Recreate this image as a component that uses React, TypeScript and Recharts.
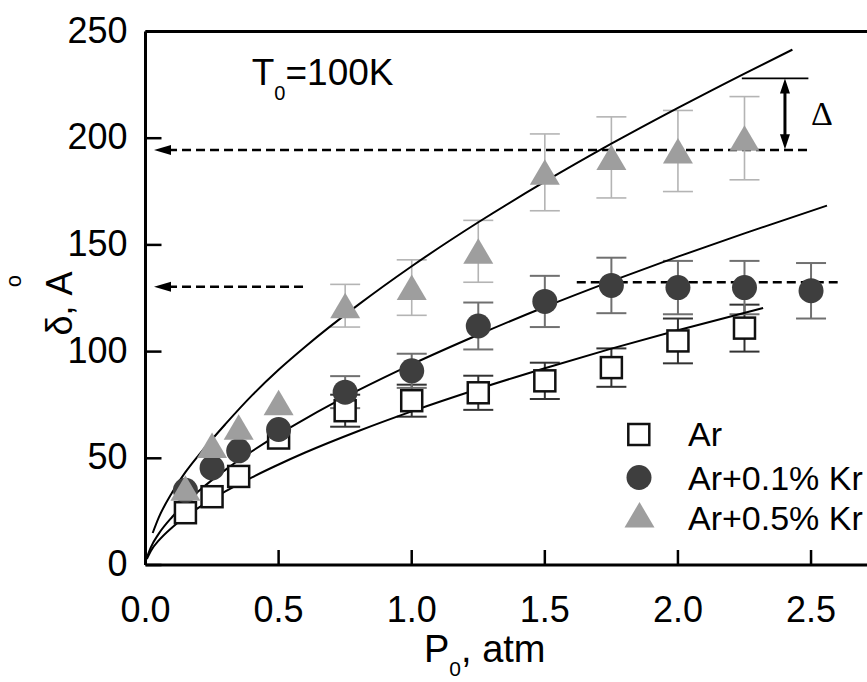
import React from 'react';
import {
  ComposedChart,
  Scatter,
  Line,
  XAxis,
  YAxis,
  ErrorBar,
  ReferenceLine,
  ReferenceDot,
  Legend,
} from 'recharts';

const FONT = "'Liberation Sans', Arial, Helvetica, sans-serif";

// ---- data: measured points ----
const xAr = [0.15, 0.25, 0.35, 0.5, 0.75, 1.0, 1.25, 1.5, 1.75, 2.0, 2.25];
const yAr = [24.5, 32, 41.5, 59.5, 72.3, 77, 80.7, 86.3, 92.5, 105, 111];
const eAr = [0, 0, 0, 0, 7.5, 7.5, 8, 8.5, 9, 10.5, 11];

const xKr01 = [0.15, 0.25, 0.35, 0.5, 0.75, 1.0, 1.25, 1.5, 1.75, 2.0, 2.25, 2.5];
const yKr01 = [35, 45.5, 53.5, 63.5, 81, 91, 112, 123.5, 131, 130, 130, 128.5];
const eKr01 = [0, 0, 0, 0, 7.5, 8, 11, 12, 13, 12.5, 12.5, 13];

const xKr05 = [0.15, 0.25, 0.35, 0.5, 0.75, 1.0, 1.25, 1.5, 1.75, 2.0, 2.25];
const yKr05 = [36, 56, 64.5, 76, 121.5, 130, 147, 184, 191, 194, 200];
const eKr05 = [0, 0, 0, 0, 10, 13, 14.5, 18, 19, 19, 19.5];

// ---- data: fitted curves ----
const fitTopX = [0.027, 0.05, 0.1, 0.15, 0.2, 0.3, 0.4, 0.5, 0.6, 0.8, 1.0, 1.25, 1.5, 1.75, 2.0, 2.25, 2.43];
const fitTopY = [15, 22.3, 34, 43.5, 51.5, 66, 79.5, 91.5, 102.3, 122, 140, 160.6, 179.6, 197.4, 214.2, 230.3, 241.5];

const fitMidX = [0.005, 0.02, 0.05, 0.1, 0.15, 0.2, 0.3, 0.4, 0.5, 0.6, 0.8, 1.0, 1.25, 1.5, 1.75, 2.0, 2.25, 2.56];
const fitMidY = [3.5, 8.3, 14.7, 22.5, 29, 34.7, 44.6, 53.3, 61.2, 68.5, 81.9, 94, 107.9, 120.9, 133, 144.5, 155.4, 168.4];

const fitLowX = [0.005, 0.02, 0.05, 0.1, 0.15, 0.2, 0.3, 0.4, 0.5, 0.6, 0.8, 1.0, 1.25, 1.5, 1.75, 2.0, 2.32];
const fitLowY = [2.8, 6.6, 11.5, 17.6, 22.6, 26.9, 34.5, 41.1, 47.1, 52.7, 62.8, 72, 82.5, 92.2, 101.4, 110, 120.4];

// ---- axis ticks ----
const xTicks = [0, 0.5, 1.0, 1.5, 2.0, 2.5];
const yTicks = [0, 50, 100, 150, 200, 250];

// ---- series names ----
const seriesNames = ['Ar', 'Ar+0.1% Kr', 'Ar+0.5% Kr'];

const pts = (xs: number[], ys: number[], es?: number[]) =>
  xs.map((x, i) => ({ x, y: ys[i], e: es ? es[i] : 0 }));

const arData = pts(xAr, yAr, eAr);
const kr01Data = pts(xKr01, yKr01, eKr01);
const kr05Data = pts(xKr05, yKr05, eKr05);
const fitTop = pts(fitTopX, fitTopY);
const fitMid = pts(fitMidX, fitMidY);
const fitLow = pts(fitLowX, fitLowY);

const SquareShape = (p: any) => (
  <rect x={p.cx - 10.5} y={p.cy - 10.5} width={21} height={21} fill="#fff" stroke="#111" strokeWidth={2.5} />
);
const CircleShape = (p: any) => <circle cx={p.cx} cy={p.cy} r={12.5} fill="#3e3e3e" />;
const TriShape = (p: any) => (
  <polygon
    points={`${p.cx},${p.cy - 13} ${p.cx + 15},${p.cy + 12.5} ${p.cx - 15},${p.cy + 12.5}`}
    fill="#9e9e9e"
  />
);

const XTick = (p: any) => {
  const { x, y, payload } = p;
  return (
    <g>
      <line x1={x} y1={y} x2={x} y2={y - 15} stroke="#000" strokeWidth={2.5} />
      <text x={x} y={y + 57} textAnchor="middle" fontSize={36} fontFamily={FONT} fill="#000">
        {Number(payload.value).toFixed(1)}
      </text>
    </g>
  );
};

const YTick = (p: any) => {
  const { x, y, payload } = p;
  return (
    <g>
      <line x1={x} y1={y} x2={x + 16} y2={y} stroke="#000" strokeWidth={2.5} />
      <text x={x - 18} y={y + 11} textAnchor="end" fontSize={36} fontFamily={FONT} fill="#000">
        {payload.value}
      </text>
    </g>
  );
};

const headPts = (tx: number, ty: number, fx: number, fy: number, len: number, half: number) => {
  const dx = tx - fx;
  const dy = ty - fy;
  const d = Math.hypot(dx, dy) || 1;
  const ux = dx / d;
  const uy = dy / d;
  const bx = tx - ux * len;
  const by = ty - uy * len;
  return `${tx},${ty} ${bx - uy * half},${by + ux * half} ${bx + uy * half},${by - ux * half}`;
};

const DashArrow = (p: any) => {
  const { x1, y1, x2, y2 } = p;
  const d = Math.hypot(x2 - x1, y2 - y1) || 1;
  const ux = (x2 - x1) / d;
  const uy = (y2 - y1) / d;
  return (
    <g>
      <line x1={x1 + ux * 14} y1={y1 + uy * 14} x2={x2} y2={y2} stroke="#000" strokeWidth={2.5} strokeDasharray="9 5" />
      <polygon points={headPts(x1, y1, x2, y2, 17, 5)} fill="#000" />
    </g>
  );
};

const DashPlain = (p: any) => (
  <line x1={p.x1} y1={p.y1} x2={p.x2} y2={p.y2} stroke="#000" strokeWidth={2.5} strokeDasharray="9 5" />
);

const DoubleArrow = (p: any) => {
  const { x1, y1, x2, y2 } = p;
  return (
    <g>
      <line x1={x1} y1={y1 + 12} x2={x2} y2={y2 - 12} stroke="#000" strokeWidth={3} />
      <polygon points={headPts(x1, y1, x2, y2, 15, 5)} fill="#000" />
      <polygon points={headPts(x2, y2, x1, y1, 15, 5)} fill="#000" />
    </g>
  );
};

const SolidThin = (p: any) => (
  <line x1={p.x1} y1={p.y1} x2={p.x2} y2={p.y2} stroke="#000" strokeWidth={1.8} />
);

const T0Label = (p: any) => (
  <text x={p.cx} y={p.cy} fontSize={37} fontFamily={FONT} fill="#000">
    T
    <tspan fontSize={20} dy={15}>0</tspan>
    <tspan dy={-15}>=100K</tspan>
  </text>
);

const DeltaLabel = (p: any) => (
  <text x={p.cx} y={p.cy} fontSize={34} fontFamily="'Liberation Serif', 'Times New Roman', serif" fill="#000">
    Δ
  </text>
);

const LegendContent = () => {
  const rows = [
    { name: seriesNames[0], cy: 34.5, base: 45.7 },
    { name: seriesNames[1], cy: 77.5, base: 90 },
    { name: seriesNames[2], cy: 115, base: 130 },
  ];
  return (
    <svg width={267} height={150} style={{ overflow: 'visible', display: 'block' }}>
      <SquareShape cx={38.8} cy={rows[0].cy} />
      <CircleShape cx={39} cy={rows[1].cy} />
      <TriShape cx={39.5} cy={rows[2].cy} />
      {rows.map((r) => (
        <text key={r.name} x={88} y={r.base} fontSize={34} fontFamily={FONT} fill="#000">
          {r.name}
        </text>
      ))}
    </svg>
  );
};

export default function App() {
  return (
    <div style={{ position: 'absolute', left: 0, top: 0, width: 867, height: 682, overflow: 'hidden', background: '#fff' }}>
      <ComposedChart width={900} height={682} margin={{ top: 31.5, right: 22.4, bottom: 57, left: 85.5 }}>
        <XAxis
          dataKey="x"
          type="number"
          domain={[0, 2.75]}
          allowDataOverflow
          ticks={xTicks}
          interval={0}
          tick={<XTick />}
          tickLine={false}
          tickSize={0}
          tickMargin={0}
          height={60}
          axisLine={{ stroke: '#000', strokeWidth: 3 }}
        />
        <YAxis
          dataKey="y"
          type="number"
          domain={[0, 250]}
          allowDataOverflow
          ticks={yTicks}
          interval={0}
          tick={<YTick />}
          tickLine={false}
          tickSize={0}
          tickMargin={0}
          width={60}
          axisLine={{ stroke: '#000', strokeWidth: 3 }}
        />
        <ReferenceLine y={250} stroke="#000" strokeWidth={3} ifOverflow="visible" />
        <ReferenceLine x={2.75} stroke="#000" strokeWidth={3} ifOverflow="visible" />

        <ReferenceLine segment={[{ x: 0.032, y: 194.5 }, { x: 2.49, y: 194.5 }]} shape={DashArrow} />
        <ReferenceLine segment={[{ x: 0.032, y: 130.4 }, { x: 0.6, y: 130.4 }]} shape={DashArrow} />
        <ReferenceLine segment={[{ x: 1.62, y: 132.5 }, { x: 2.6, y: 132.5 }]} shape={DashPlain} />
        <ReferenceLine segment={[{ x: 2.24, y: 228 }, { x: 2.49, y: 228 }]} shape={SolidThin} />
        <ReferenceLine segment={[{ x: 2.402, y: 228 }, { x: 2.402, y: 194.8 }]} shape={DoubleArrow} />

        <Scatter name={seriesNames[0]} data={arData} dataKey="y" shape={SquareShape} isAnimationActive={false}>
          <ErrorBar dataKey="e" direction="y" width={15} stroke="#333" strokeWidth={2} isAnimationActive={false} />
        </Scatter>
        <Scatter name={seriesNames[1]} data={kr01Data} dataKey="y" shape={CircleShape} isAnimationActive={false}>
          <ErrorBar dataKey="e" direction="y" width={15} stroke="#707070" strokeWidth={2} isAnimationActive={false} />
        </Scatter>
        <Scatter name={seriesNames[2]} data={kr05Data} dataKey="y" shape={TriShape} isAnimationActive={false}>
          <ErrorBar dataKey="e" direction="y" width={15} stroke="#b4b4b4" strokeWidth={1.6} isAnimationActive={false} />
        </Scatter>

        <Line data={fitTop} dataKey="y" type="monotone" stroke="#000" strokeWidth={2} dot={false} activeDot={false} isAnimationActive={false} legendType="none" />
        <Line data={fitMid} dataKey="y" type="monotone" stroke="#000" strokeWidth={2} dot={false} activeDot={false} isAnimationActive={false} legendType="none" />
        <Line data={fitLow} dataKey="y" type="monotone" stroke="#000" strokeWidth={2} dot={false} activeDot={false} isAnimationActive={false} legendType="none" />

        <ReferenceDot x={0.399} y={225} r={0} shape={T0Label} ifOverflow="visible" />
        <ReferenceDot x={2.5} y={206} r={0} shape={DeltaLabel} ifOverflow="visible" />

        <Legend
          layout="horizontal"
          verticalAlign="middle"
          align="center"
          content={<LegendContent />}
          wrapperStyle={{ position: 'absolute', left: 600, top: 400, width: 267, height: 150 }}
        />

        <text x={72} y={303.5} transform="rotate(-90 72 303.5)" textAnchor="middle" fontSize={36} fontFamily={FONT} fill="#000">
          δ, A
        </text>
        <text x={21} y={281} transform="rotate(-90 21 281)" textAnchor="middle" fontSize={22} fontFamily={FONT} fill="#000">
          o
        </text>
        <text x={424} y={662} fontSize={38} fontFamily={FONT} fill="#000">
          P<tspan fontSize={21} dy={14}>0</tspan>
          <tspan dy={-14}>, atm</tspan>
        </text>
      </ComposedChart>
    </div>
  );
}
